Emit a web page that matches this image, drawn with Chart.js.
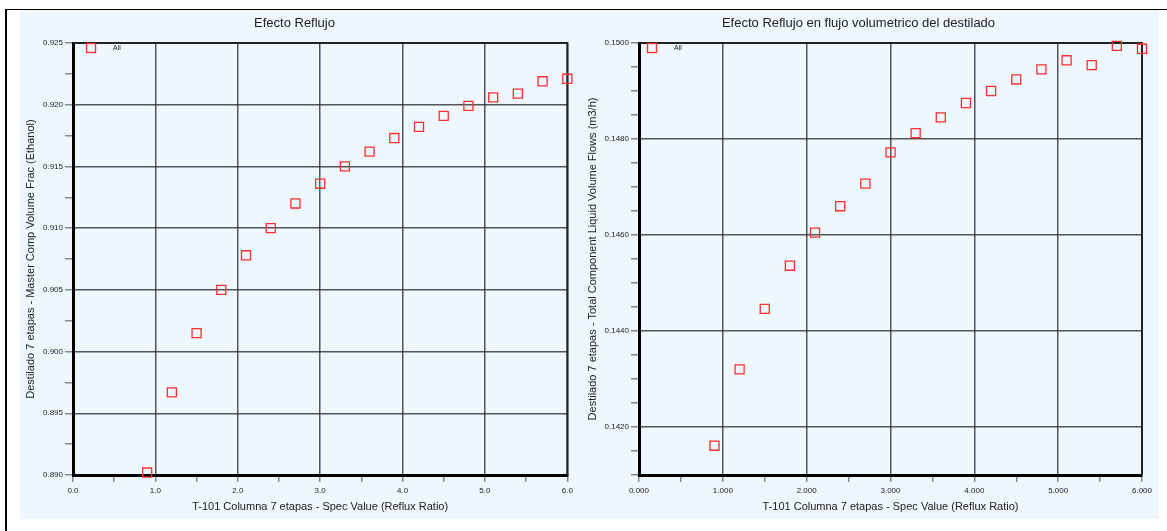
<!DOCTYPE html>
<html>
<head>
<meta charset="utf-8">
<script src="https://cdn.jsdelivr.net/npm/chart.js@4.4.1/dist/chart.umd.min.js"></script>
<style>
    body { margin: 0; background: #fff; }
    #frame { position: absolute; left: 5px; top: 9px; width: 1160px; height: 522px;
             border-top: 1px solid #000; border-left: 2px solid #000; }
    #panel { position: absolute; left: 20px; top: 10px; width: 1139px; height: 509px; background: #eef6fe; }
    #leftChart { position: absolute; left: 0; top: 0; }
    #rightChart { position: absolute; left: 555px; top: 0; }
</style>
</head>
<body>
<div id="frame"></div>
<div id="panel">
    <canvas id="leftChart" width="555" height="509"></canvas>
    <canvas id="rightChart" width="584" height="509"></canvas>
</div>
<script>
// reflux ratio values swept in the case study
const refluxRatio = [0.9, 1.2, 1.5, 1.8, 2.1, 2.4, 2.7, 3.0, 3.3, 3.6, 3.9, 4.2, 4.5, 4.8, 5.1, 5.4, 5.7, 6.0];
// ethanol volume fraction in distillate
const ethanolFrac = [0.8902, 0.8967, 0.9015, 0.9050, 0.9078, 0.9100, 0.9120, 0.9136, 0.9150,
    0.9162, 0.9173, 0.9182, 0.9191, 0.9199, 0.9206, 0.9209, 0.9219, 0.9221];
// distillate liquid volume flow (m3/h)
const distFlow = [0.14161, 0.14320, 0.14446, 0.14536, 0.14605, 0.14660, 0.14707, 0.14772, 0.14812,
    0.14845, 0.14875, 0.14900, 0.14924, 0.14945, 0.14964, 0.14954, 0.14994, 0.14988];
const seriesName = 'All';

const titles = ['Efecto Reflujo', 'Efecto Reflujo en flujo volumetrico del destilado'];
const xTitle = 'T-101 Columna 7 etapas - Spec Value (Reflux Ratio)';
const yTitles = ['Destilado 7 etapas - Master Comp Volume Frac (Ethanol)',
    'Destilado 7 etapas - Total Component Liquid Volume Flows (m3/h)'];

const FONT = "'Liberation Sans', Arial, sans-serif";
const RED = 'rgb(255, 45, 45)';
const GRID = 'rgba(45, 45, 45, 0.8)';

// top/right edge of the plot box plus the little "All" key in the corner
const frameAndKey = {
    id: 'frameAndKey',
    beforeDatasetsDraw(chart) {
        const a = chart.chartArea;
        const ctx = chart.ctx;
        ctx.save();
        ctx.strokeStyle = '#222';
        ctx.lineWidth = 2;
        ctx.beginPath();
        ctx.moveTo(a.left, a.top);
        ctx.lineTo(a.right, a.top);
        ctx.lineTo(a.right, a.bottom);
        ctx.stroke();
        ctx.restore();
    },
    afterDatasetsDraw(chart, args, opts) {
        const a = chart.chartArea;
        const ctx = chart.ctx;
        ctx.save();
        ctx.strokeStyle = RED;
        ctx.lineWidth = 1.3;
        ctx.strokeRect(a.left + opts.dx - 4.5, a.top + 0.5, 9, 9);
        ctx.fillStyle = '#222';
        ctx.font = '7px ' + FONT;
        ctx.textBaseline = 'middle';
        ctx.fillText(chart.data.datasets[0].label, a.left + opts.tx, a.top + 5);
        ctx.restore();
    }
};

function isMajor(v, unit) {
    return Math.round(v * 10000) % unit === 0;
}

function makeChart(id, yData, opt) {
    const points = refluxRatio.map((x, i) => ({ x: x, y: yData[i] }));
    return new Chart(document.getElementById(id), {
        type: 'scatter',
        data: {
            datasets: [{
                label: seriesName,
                data: points,
                pointStyle: 'rect',
                pointRadius: 6.4,
                pointHoverRadius: 6.4,
                pointBorderWidth: 1.3,
                borderColor: RED,
                backgroundColor: 'rgba(0,0,0,0)',
                clip: false
            }]
        },
        options: {
            responsive: false,
            animation: false,
            devicePixelRatio: 1,
            layout: { padding: { left: 0, right: opt.padRight, top: 6, bottom: 0 } },
            plugins: {
                legend: { display: false },
                tooltip: { enabled: false },
                title: {
                    display: true,
                    text: opt.title,
                    color: '#222',
                    font: { family: FONT, size: 13, weight: 'normal' },
                    padding: { top: 0, bottom: 11.4 }
                },
                frameAndKey: { dx: opt.keyDx, tx: opt.keyTx }
            },
            scales: {
                x: {
                    type: 'linear',
                    min: 0,
                    max: 6,
                    afterFit(s) {
                        s.height = 44;
                        s.paddingLeft = 0; s.paddingRight = 0;
                    },
                    ticks: {
                        stepSize: 0.5,
                        autoSkip: false,
                        maxRotation: 0,
                        padding: 4,
                        color: '#222',
                        font: { family: FONT, size: 8 },
                        callback: v => Math.abs(v - Math.round(v)) < 1e-9 ? v.toFixed(opt.xDigits) : ''
                    },
                    grid: {
                        color: c => (c.tick && Math.abs(c.tick.value - Math.round(c.tick.value)) < 1e-9) ? GRID : 'rgba(0,0,0,0)',
                        lineWidth: 1.5,
                        tickColor: '#8a8a8a',
                        tickLength: 7
                    },
                    border: { color: '#000', width: 3 },
                    title: {
                        display: true,
                        text: xTitle,
                        color: '#222',
                        font: { family: FONT, size: 11 },
                        padding: { top: 0, bottom: 5.4 }
                    }
                },
                y: {
                    type: 'linear',
                    min: opt.yMin,
                    max: opt.yMax,
                    afterFit(s) {
                        s.width = opt.yWidth;
                        s.paddingTop = 0; s.paddingBottom = 0;
                    },
                    ticks: {
                        stepSize: opt.yStep,
                        autoSkip: false,
                        maxTicksLimit: 100,
                        padding: 2,
                        color: '#222',
                        font: { family: FONT, size: 8 },
                        callback: v => isMajor(v, opt.yMajor) ? v.toFixed(opt.yDigits) : ''
                    },
                    grid: {
                        color: c => (c.tick && isMajor(c.tick.value, opt.yMajor)) ? GRID : 'rgba(0,0,0,0)',
                        lineWidth: 1.5,
                        tickColor: '#8a8a8a',
                        tickLength: 8
                    },
                    border: { color: '#000', width: 3 },
                    title: {
                        display: true,
                        text: opt.yTitle,
                        color: '#222',
                        font: { family: FONT, size: 11 },
                        padding: { top: opt.yTitlePad, bottom: 0 }
                    }
                }
            }
        },
        plugins: [frameAndKey]
    });
}

makeChart('leftChart', ethanolFrac, {
    title: titles[0], yTitle: yTitles[0],
    yMin: 0.890, yMax: 0.925, yStep: 0.0025, yMajor: 50, yDigits: 3,
    xDigits: 1, yWidth: 53, padRight: 6, yTitlePad: 4.4, keyDx: 18, keyTx: 40
});

makeChart('rightChart', distFlow, {
    title: titles[1], yTitle: yTitles[1],
    yMin: 0.1410, yMax: 0.1500, yStep: 0.0005, yMajor: 20, yDigits: 4,
    xDigits: 3, yWidth: 64, padRight: 17, yTitlePad: 11.4, keyDx: 13, keyTx: 35
});
</script>
</body>
</html>
